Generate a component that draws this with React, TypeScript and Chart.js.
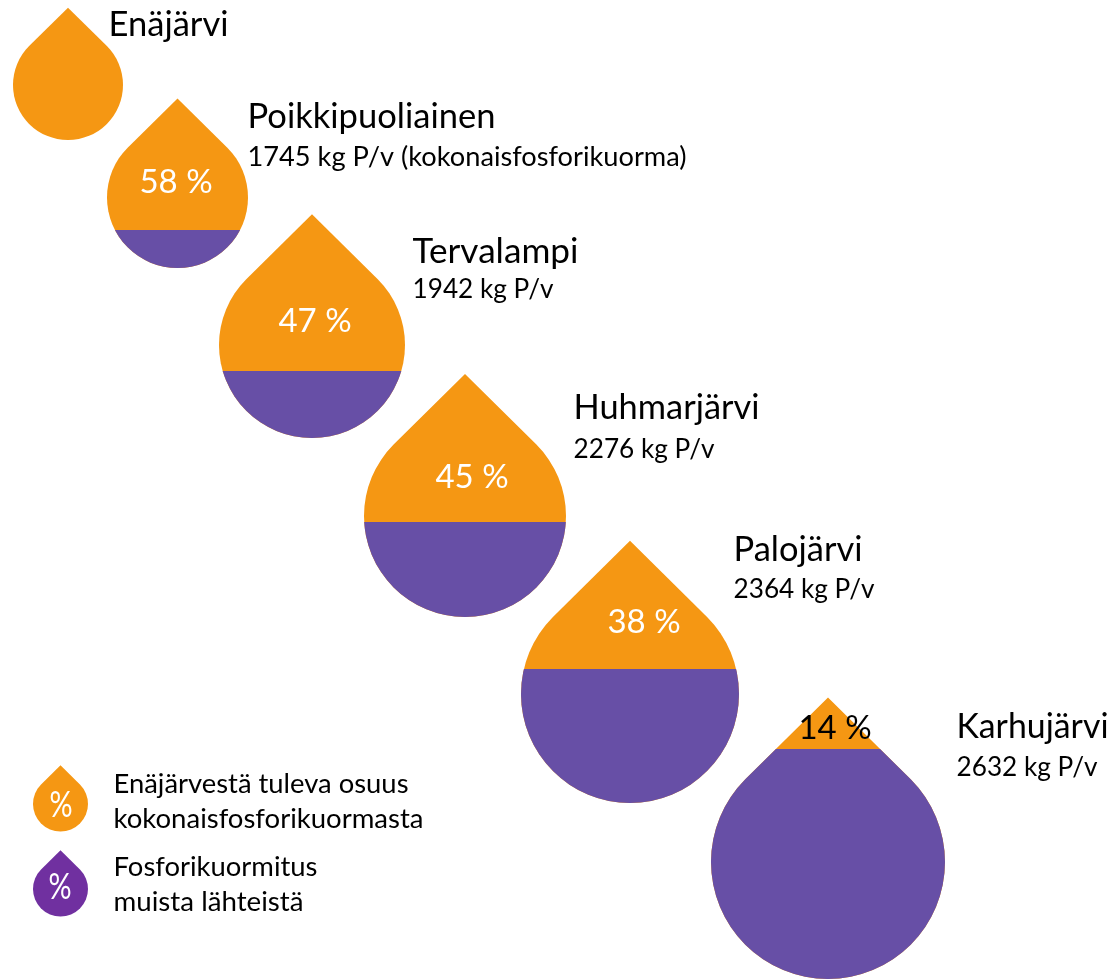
import React, { useEffect, useRef } from "react";
import { Chart, registerables } from "chart.js";

Chart.register(...registerables);

// Lakes, in order along the chain
const lakeNames = ["Enäjärvi", "Poikkipuoliainen", "Tervalampi", "Huhmarjärvi", "Palojärvi", "Karhujärvi"];
const lakeLoads = [null, "1745 kg P/v (kokonaisfosforikuorma)", "1942 kg P/v", "2276 kg P/v", "2364 kg P/v", "2632 kg P/v"];
const lakeShares = [null, "58 %", "47 %", "45 %", "38 %", "14 %"];

// Values, in axis units
const dropColumn = [68, 177.5, 312, 465, 630, 828];
const dropRow = [85, 197.5, 345, 516, 694, 862];
const dropSize = [55, 70.5, 93, 101, 109, 117];
const fillLevel = [null, 230, 371, 522, 669, 749];

const legendLabels = [
  ["Enäjärvestä tuleva osuus", "kokonaisfosforikuormasta"],
  ["Fosforikuormitus", "muista lähteistä"],
];
const legendColumn = [60.5, 60.5];
const legendRow = [804, 889];
const legendSize = [27.5, 27.5];

const ORANGE = "#F59713";
const PURPLE = "#674FA6";
const LEGEND_PURPLE = "#7030A0";
const FONT = '"Lato", sans-serif';
const TIP = 1.405;

const nameSpots = [[108.5, 36, 120], [247.5, 128, 248], [412.5, 263, 166], [573.5, 419, 186], [733.5, 561, 129], [956.5, 738, 152]];
const loadSpots = [null, [247.5, 166, 439], [412.5, 298, 141], [573.5, 458, 141], [733.5, 598, 141], [956.5, 776, 141]];
const shareSpots = [null, [176, 193], [315, 332], [472, 488], [644, 633], [835, 739]];
const legendTextSpots = [[[113.5, 793, 295], [113.5, 828, 310]], [[113.5, 876, 204], [113.5, 911, 190]]];
const legendPctSpots = [[61, 817], [60, 899]];

function dropPath(ctx: CanvasRenderingContext2D, x: number, y: number, r: number) {
  ctx.beginPath();
  ctx.moveTo(x, y - r * TIP);
  ctx.arc(x, y, r, -Math.PI / 4, (-3 * Math.PI) / 4, false);
  ctx.closePath();
}

function fitText(ctx: CanvasRenderingContext2D, text: string, x: number, y: number, w: number) {
  const m = ctx.measureText(text).width;
  ctx.save();
  ctx.translate(x, y);
  ctx.scale(w / m, 1);
  ctx.fillText(text, 0, 0);
  ctx.restore();
}

const dropPlugin = {
  id: "drops",
  afterDatasetsDraw(chart: any) {
    const { ctx, scales } = chart;
    const yScale = scales.y;
    chart.data.datasets.forEach((ds: any, di: number) => {
      chart.getDatasetMeta(di).data.forEach((el: any, i: number) => {
        const r = el.options.radius;
        const level = ds.levels ? ds.levels[i] : null;
        ctx.save();
        dropPath(ctx, el.x, el.y, r);
        ctx.fillStyle = ds.dropColor;
        ctx.fill();
        if (level != null) {
          const py = yScale.getPixelForValue(level);
          ctx.save();
          ctx.beginPath();
          ctx.rect(0, py, chart.width, chart.height - py);
          ctx.clip();
          dropPath(ctx, el.x, el.y, r);
          ctx.fillStyle = ds.lowerColor;
          ctx.fill();
          ctx.restore();
        }
        ctx.restore();
      });
    });

    ctx.save();
    ctx.textAlign = "left";
    ctx.textBaseline = "alphabetic";
    ctx.fillStyle = "#000";
    ctx.font = `34.5px ${FONT}`;
    lakeNames.forEach((name, i) => fitText(ctx, name, nameSpots[i][0], nameSpots[i][1], nameSpots[i][2]));
    ctx.font = `27px ${FONT}`;
    lakeLoads.forEach((load, i) => {
      const s = loadSpots[i];
      if (load && s) fitText(ctx, load, s[0], s[1], s[2]);
    });
    ctx.font = `27.5px ${FONT}`;
    legendLabels.forEach((lines, i) =>
      lines.forEach((line, j) => {
        const s = legendTextSpots[i][j];
        fitText(ctx, line, s[0], s[1], s[2]);
      })
    );
    ctx.textAlign = "center";
    ctx.font = `33px ${FONT}`;
    lakeShares.forEach((share, i) => {
      const s = shareSpots[i];
      if (!share || !s) return;
      ctx.fillStyle = i === 5 ? "#000" : "#fff";
      ctx.fillText(share, s[0], s[1]);
    });
    ctx.fillStyle = "#fff";
    ctx.font = `36px ${FONT}`;
    legendPctSpots.forEach(([x, y]) => {
      ctx.save();
      ctx.translate(x, y);
      ctx.scale(0.8, 1);
      ctx.fillText("%", 0, 0);
      ctx.restore();
    });
    ctx.restore();
  },
};

export default function App() {
  const ref = useRef<HTMLCanvasElement>(null);
  useEffect(() => {
    if (!ref.current) return;
    const pts = (xs: number[], ys: number[], rs: number[]) => xs.map((x, i) => ({ x, y: ys[i], r: rs[i] }));
    const chart = new Chart(ref.current, {
      type: "bubble",
      data: {
        datasets: [
          {
            label: "Järvet",
            data: pts(dropColumn, dropRow, dropSize),
            backgroundColor: "transparent",
            borderWidth: 0,
            levels: fillLevel,
            dropColor: ORANGE,
            lowerColor: PURPLE,
          } as any,
          {
            label: "Enäjärvestä tuleva osuus kokonaisfosforikuormasta",
            data: pts(legendColumn.slice(0, 1), legendRow.slice(0, 1), legendSize.slice(0, 1)),
            backgroundColor: "transparent",
            borderWidth: 0,
            dropColor: ORANGE,
          } as any,
          {
            label: "Fosforikuormitus muista lähteistä",
            data: pts(legendColumn.slice(1), legendRow.slice(1), legendSize.slice(1)),
            backgroundColor: "transparent",
            borderWidth: 0,
            dropColor: LEGEND_PURPLE,
          } as any,
        ],
      },
      options: {
        animation: false,
        responsive: false,
        layout: { padding: 0, autoPadding: false },
        plugins: { legend: { display: false }, tooltip: { enabled: false } },
        scales: {
          x: { type: "linear", display: false, min: 0, max: 1115 },
          y: { type: "linear", display: false, min: 0, max: 979, reverse: true },
        },
      },
      plugins: [dropPlugin],
    });
    return () => chart.destroy();
  }, []);
  return (
    <div style={{ position: "absolute", left: 0, top: 0, width: 1115, height: 979, background: "#fff" }}>
      <canvas ref={ref} width={1115} height={979} style={{ display: "block" }} />
    </div>
  );
}
